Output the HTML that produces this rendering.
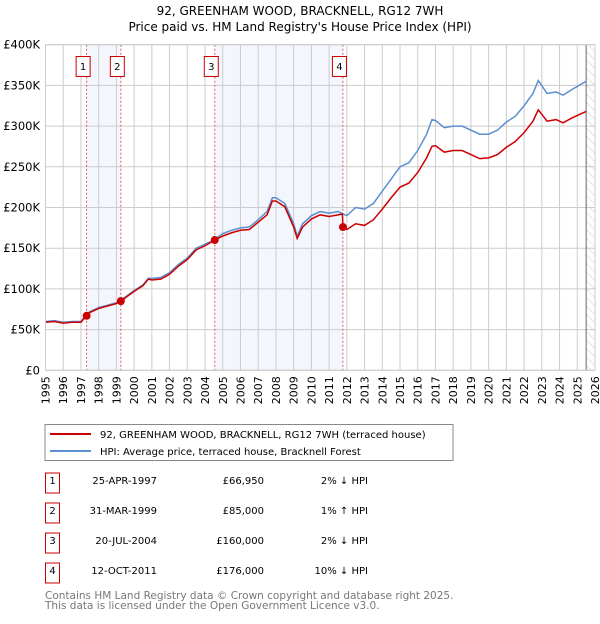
<!DOCTYPE html>
<html><head><meta charset="utf-8"><style>
body{margin:0;background:#fff;width:600px;height:620px;overflow:hidden;font-family:"DejaVu Sans","Liberation Sans",sans-serif;}
svg text{font-family:"DejaVu Sans","Liberation Sans",sans-serif;}
</style></head><body>
<svg id="c" width="600" height="620">
<defs><pattern id="hatch" width="6" height="6" patternUnits="userSpaceOnUse" patternTransform="rotate(-45)"><line x1="0" y1="0" x2="0" y2="6" stroke="#ccc" stroke-width="1"/></pattern></defs>
<text x="300" y="15" text-anchor="middle" font-size="12">92, GREENHAM WOOD, BRACKNELL, RG12 7WH</text>
<text x="300" y="31" text-anchor="middle" font-size="12">Price paid vs. HM Land Registry's House Price Index (HPI)</text>
<g id="plot"></g>
<rect x="45" y="424.5" width="408" height="36" fill="#fff" stroke="#888"/>
<line x1="50" y1="434" x2="91" y2="434" stroke="#cc0000" stroke-width="2"/>
<text x="100" y="438" font-size="10">92, GREENHAM WOOD, BRACKNELL, RG12 7WH (terraced house)</text>
<line x1="50" y1="451" x2="91" y2="451" stroke="#5b8fd0" stroke-width="2"/>
<text x="100" y="455" font-size="10">HPI: Average price, terraced house, Bracknell Forest</text>
<g id="table" font-size="10"></g>
<text x="45" y="599" font-size="10.5" fill="#777">Contains HM Land Registry data © Crown copyright and database right 2025.</text>
<text x="45" y="609" font-size="10.5" fill="#777">This data is licensed under the Open Government Licence v3.0.</text>
</svg>
<script>
const hpiYears=[1995,1995.5,1996,1996.5,1997,1997.3,1997.5,1998,1998.5,1999,1999.25,1999.5,2000,2000.5,2000.8,2001,2001.5,2002,2002.5,2003,2003.5,2004,2004.5,2005,2005.5,2006,2006.5,2007,2007.5,2007.8,2008,2008.5,2009,2009.2,2009.5,2010,2010.5,2011,2011.5,2011.8,2012,2012.5,2013,2013.5,2014,2014.5,2015,2015.5,2016,2016.5,2016.8,2017,2017.5,2018,2018.5,2019,2019.5,2020,2020.5,2021,2021.5,2022,2022.5,2022.8,2023.3,2023.8,2024.2,2024.7,2025.5];
const hpiValues=[60,61,59,60,60,68,72,77,80,83,86,90,98,105,113,113,114,120,130,138,150,155,160,168,172,175,176,185,195,212,212,205,180,165,180,190,195,193,195,192,190,200,198,205,220,235,250,255,270,290,308,307,298,300,300,295,290,290,295,305,312,325,340,356,340,342,338,345,355];
const priceYears=[1995,1995.5,1996,1996.5,1997,1997.3,1997.5,1998,1998.5,1999,1999.25,1999.5,2000,2000.5,2000.8,2001,2001.5,2002,2002.5,2003,2003.5,2004,2004.55,2005,2005.5,2006,2006.5,2007,2007.5,2007.8,2008,2008.5,2009,2009.2,2009.5,2010,2010.5,2011,2011.5,2011.75,2011.78,2012,2012.5,2013,2013.5,2014,2014.5,2015,2015.5,2016,2016.5,2016.8,2017,2017.5,2018,2018.5,2019,2019.5,2020,2020.5,2021,2021.5,2022,2022.5,2022.8,2023.3,2023.8,2024.2,2024.7,2025.5];
const priceValues=[59,60,58,59,59,67,71,76,79,82,85,89,97,104,112,111,112,118,128,136,148,153,160,165,169,172,173,182,191,208,208,201,176,162,176,186,191,189,191,192,176,173,180,178,185,198,212,225,230,243,261,275,276,268,270,270,265,260,261,265,274,281,292,306,320,306,308,304,310,318];
const saleYears=[1997.32,1999.25,2004.55,2011.78];
const saleValues=[66.95,85,160,176];
const saleLabels=["1","2","3","4"];
const saleDates=["25-APR-1997","31-MAR-1999","20-JUL-2004","12-OCT-2011"];
const salePrices=["£66,950","£85,000","£160,000","£176,000"];
const saleHpi=["2% ↓ HPI","1% ↑ HPI","2% ↓ HPI","10% ↓ HPI"];
const yTicks=[0,50,100,150,200,250,300,350,400];
const yTickLabels=["£0","£50K","£100K","£150K","£200K","£250K","£300K","£350K","£400K"];
const xTicks=[1995,1996,1997,1998,1999,2000,2001,2002,2003,2004,2005,2006,2007,2008,2009,2010,2011,2012,2013,2014,2015,2016,2017,2018,2019,2020,2021,2022,2023,2024,2025,2026];

const X0=45.5,X1=595,Y0=370.3,Y1=44.7;
const xs=y=>X0+(y-1995)/31*(X1-X0);
const ys=v=>Y0-v/400*(Y0-Y1);
const NS="http://www.w3.org/2000/svg";
const plot=document.getElementById('plot');
function mk(tag,attrs,parent){const e=document.createElementNS(NS,tag);for(const k in attrs)e.setAttribute(k,attrs[k]);(parent||plot).appendChild(e);return e;}

let e;
e=mk('rect',{x:X0,y:Y1,width:X1-X0,height:Y0-Y1,fill:'#fff'});


for(const [a,b] of [[0,1],[2,3]]){
 e=mk('rect',{x:xs(saleYears[a]),y:Y1,width:xs(saleYears[b])-xs(saleYears[a]),height:Y0-Y1,fill:'#f3f6fd'});
 
 
}
e=mk('rect',{x:xs(2025.5),y:Y1,width:X1-xs(2025.5),height:Y0-Y1,fill:'url(#hatch)'});


xTicks.forEach((t,i)=>{
 e=mk('line',{x1:xs(t),x2:xs(t),y1:Y1,y2:Y0,stroke:'#ccc','stroke-width':1});
 
 
 e=mk('text',{x:0,y:0,'font-size':11,'text-anchor':'end',transform:`translate(${xs(t)+4},${Y0+6}) rotate(-90)`});
 e.textContent=t;
 
 
});
yTicks.forEach((t,i)=>{
 e=mk('line',{x1:X0,x2:X1,y1:ys(t),y2:ys(t),stroke:'#ccc','stroke-width':1});
 
 
 e=mk('text',{x:40,y:ys(t)+4,'font-size':11.5,'text-anchor':'end'});
 e.textContent=yTickLabels[i];
 
 
});
e=mk('line',{x1:xs(2025.5),x2:xs(2025.5),y1:Y1,y2:Y0,stroke:'#666','stroke-width':1});


saleYears.forEach((s,i)=>{
 e=mk('line',{x1:xs(s),x2:xs(s),y1:Y1,y2:Y0,stroke:'#e06060','stroke-width':1,'stroke-dasharray':'2,2'});
 
 
});
e=mk('polyline',{points:hpiYears.map((y,i)=>xs(y)+','+ys(hpiValues[i])).join(' '),fill:'none',stroke:'#5b8fd0','stroke-width':1.5});


e=mk('polyline',{points:priceYears.map((y,i)=>xs(y)+','+ys(priceValues[i])).join(' '),fill:'none',stroke:'#cc0000','stroke-width':1.5});


saleYears.forEach((s,i)=>{
 e=mk('circle',{cx:xs(s),cy:ys(saleValues[i]),r:4,fill:'#cc0000'});
 
 
 e=mk('rect',{x:xs(s)-10.5,y:56.5,width:14,height:20,fill:'#fff',stroke:'#cc0000'});
 
 
 e=mk('text',{x:xs(s)-3.5,y:70,'font-size':10,'text-anchor':'middle'});
 e.textContent=saleLabels[i];
 
 
});
e=mk('rect',{x:X0,y:Y1,width:X1-X0,height:Y0-Y1,fill:'none',stroke:'#ccc'});


const tb=document.getElementById('table');
saleLabels.forEach((l,i)=>{
 const cy=483+i*30;
 e=mk('rect',{x:45.5,y:cy-10,width:14,height:20,fill:'#fff',stroke:'#cc0000'},tb);
 
 
 e=mk('text',{x:52.5,y:cy+1,'text-anchor':'middle'},tb);e.textContent=l;
 
 
 e=mk('text',{x:157,y:cy+1,'text-anchor':'end'},tb);e.textContent=saleDates[i];
 
 
 e=mk('text',{x:264,y:cy+1,'text-anchor':'end'},tb);e.textContent=salePrices[i];
 
 
 e=mk('text',{x:368,y:cy+1,'text-anchor':'end'},tb);e.textContent=saleHpi[i];
 
 
});
</script>
</body></html>
